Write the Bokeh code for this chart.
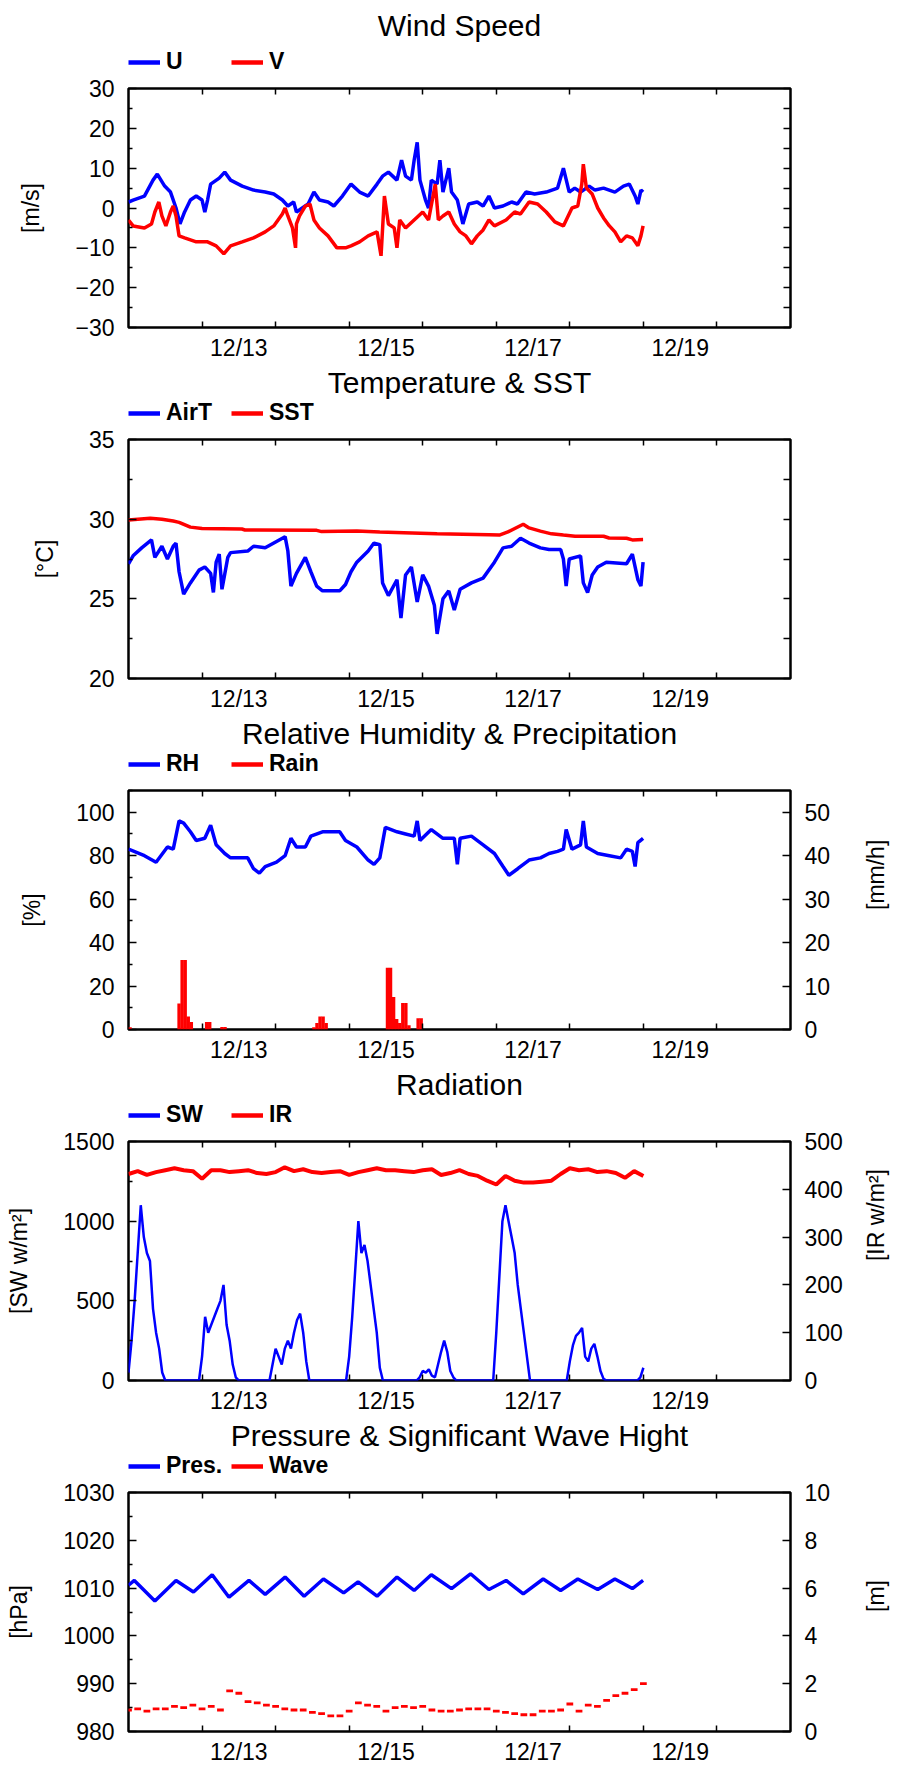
import math
import pandas as pd
from bokeh.plotting import figure
from bokeh.models import (Range1d, LinearAxis, DatetimeAxis, FixedTicker, Legend, LegendItem,
                          DatetimeTickFormatter, Spacer)
from bokeh.layouts import column
from bokeh.embed import file_html
from bokeh.resources import INLINE

# ---------------- data (hours after 12/12 00:00) ----------------
START = pd.Timestamp("2015-12-12 00:00")
DAYS_SHOWN = 9
LABEL_DAYS = [1.5, 3.5, 5.5, 7.5]
TICK_DAYS = [1, 2, 3, 4, 5, 6, 7, 8]

u_hour = [0, 1.5, 5.2, 8, 9.4, 11.8, 13.7, 15.5, 16.8, 18.3, 20.2, 22.1, 24, 24.9, 25.8, 26.8, 29.6, 31.4,
          33.3, 37.1, 40.8, 44.6, 47.4, 50.2, 52, 53.9, 54.8, 56.7, 58.6, 60.5, 62.3, 65.1, 67, 69.8, 72.6,
          75.4, 78.2, 81.1, 82.9, 84.8, 87.6, 89.1, 90.4, 92.3, 93.2, 94.2, 95.1, 96.9, 97.9, 98.8, 100.7,
          101.6, 102.6, 104.5, 105.4, 107.3, 109.1, 111, 113.8, 115.7, 117.6, 119.4, 122.2, 125, 126.9,
          129.7, 132.5, 136.3, 140, 141.9, 143.8, 145.6, 147.5, 150.3, 152.2, 155, 158.7, 161.5, 163.4,
          165.3, 166.2, 167.2, 167.9]
u_ms = [1.5, 2, 3, 7, 8.5, 5.5, 4, 0, -4, -1, 2, 3, 2, -1, 2, 6, 7.5, 9, 7, 5.5, 4.5, 4, 3.5, 2, 0.5,
        1.5, -1, 0, 1, 4, 2, 1.5, 0.5, 3, 6, 4, 3, 6, 8, 9, 7, 12, 8, 7, 12, 16.5, 7, 2, 0, 7, 6, 12, 4,
        10, 4, 2, -4, 1, 1.5, 0.5, 3, 0, 0.5, 1.5, 1, 4, 3.5, 4, 5, 10, 4, 5, 4, 5.5, 4.5, 5, 4, 5.5,
        6, 3, 1, 4.5, 4]

v_hour = [0, 1.5, 5.2, 7.5, 8.6, 9.9, 10.9, 12.2, 13.7, 14.6, 15.5, 16.5, 18.3, 22.1, 25.8, 28.6, 31.1,
          33.3, 37.1, 40.8, 44.6, 47.4, 50.2, 51.1, 52, 53.5, 54.5, 54.8, 55.8, 57.7, 59.2, 60.5, 62.3,
          65.1, 68, 70.8, 72.6, 75.4, 78.2, 81.1, 82.4, 83.5, 84.8, 86.7, 87.6, 88.5, 90.4, 93.2, 96,
          97.9, 100.1, 101.1, 102.6, 104.5, 106.3, 108.2, 110.1, 111.9, 113.8, 115.7, 117.6, 119.4,
          123.2, 126, 127.9, 130.7, 133.5, 136.3, 139.1, 141.9, 144.7, 146.6, 147.9, 148.4, 149.4,
          151.3, 153.1, 155, 156.9, 158.7, 160.6, 162.5, 164.4, 166.2, 167.2, 167.9]
v_ms = [-3, -4.5, -5, -4, -1, 1.5, -2, -4.5, -1, 0.5, -2, -7, -7.5, -8.5, -8.5, -9.5, -11.5, -9.5, -8.5,
        -7.5, -6, -4.5, -1.5, 0, -2, -5, -10, -4, -2, 0.5, 1, -3, -5, -7, -10, -10, -9.5, -8.5, -7, -6,
        -12, 3, -4, -5, -10, -3, -5, -3, -1, -3, 6, -3, -2, -1, -4, -6, -7, -9, -7, -5.5, -3, -4.5, -3,
        -1, -1.5, 1.5, 1, -1, -3.5, -4.5, 0, 0.5, 6, 11, 5, 3.5, 0, -2.5, -4.5, -6, -8.5, -7, -7.5,
        -9.5, -7, -4.5]

airt_hour = [0, 1.5, 4.3, 7.5, 8.6, 10.9, 12.7, 14.6, 15.5, 16.5, 18, 20.2, 23, 24.9, 26.8, 27.7, 28.6,
             29.6, 30.5, 32.4, 33.3, 38.9, 40.8, 44.6, 48.3, 51.1, 52, 53, 54.8, 57.7, 59.5, 61.4, 63.3,
             68.9, 70.8, 72.6, 74.5, 78.2, 80.1, 82, 82.9, 84.8, 87.6, 88.9, 90.4, 92.3, 94.2, 96, 97.9,
             99.8, 100.7, 102.6, 104.5, 106.3, 108.2, 111.9, 115.7, 119.4, 122.2, 125, 127.9, 130.7,
             134.4, 137.2, 141, 141.9, 142.8, 143.8, 147.5, 148.4, 149.8, 151.3, 153.1, 155.9, 162.5,
             164.4, 165.3, 166.2, 167.2, 167.9]
airt_c = [27.2, 27.7, 28.2, 28.7, 27.6, 28.3, 27.5, 28.3, 28.5, 26.7, 25.3, 26.0, 26.8, 27.0, 26.6, 25.4,
          27.3, 27.8, 25.6, 27.6, 27.9, 28.0, 28.3, 28.2, 28.6, 28.9, 28.0, 25.8, 26.6, 27.6, 26.7, 25.8,
          25.5, 25.5, 25.9, 26.7, 27.3, 28.0, 28.5, 28.4, 26.0, 25.2, 26.2, 23.8, 26.5, 27.0, 24.8, 26.5,
          25.8, 24.6, 22.8, 25.0, 25.5, 24.3, 25.6, 26.0, 26.3, 27.3, 28.2, 28.3, 28.8, 28.5, 28.2, 28.1,
          28.1, 27.5, 25.8, 27.5, 27.7, 26.0, 25.4, 26.5, 27.0, 27.3, 27.2, 27.8, 27.0, 26.2, 25.8, 27.3]

sst_hour = [0, 7.1, 10.9, 14.6, 16.5, 20.2, 24, 37, 38, 61.4, 63, 74.5, 82, 89.8, 100.7, 117.6, 121,
            123.8, 128.8, 130.7, 134.4, 138, 141.9, 145.7, 155, 156.8, 162.5, 164.4, 167.9]
sst_c = [29.95, 30.05, 30.0, 29.88, 29.8, 29.5, 29.42, 29.38, 29.32, 29.3, 29.22, 29.25, 29.2, 29.15,
         29.08, 29.02, 29.0, 29.2, 29.68, 29.45, 29.25, 29.08, 29.0, 28.93, 28.93, 28.82, 28.8, 28.7, 28.72]

rh_hour = [0, 5.2, 9, 12.7, 14.6, 16.5, 18, 20.2, 22.1, 24.9, 26.8, 28.6, 31.4, 33.3, 38.9, 40.8, 42.7,
           44.6, 48.3, 51.1, 53, 54.8, 57.7, 59.5, 63.3, 68.9, 70.8, 74.5, 78.2, 80.1, 82, 83.8, 87.6,
           90.4, 93.2, 94.2, 95.1, 98.8, 102.6, 106.3, 107.3, 108.2, 111.9, 115.7, 119.4, 122.2, 124.1,
           127, 130.7, 134.4, 137.2, 140, 141.9, 142.8, 144.7, 147.5, 148.4, 149.4, 153.1, 156.9, 160.6,
           162.5, 164.4, 165.3, 166.2, 167.9]
rh_pct = [83, 80, 77, 84, 83, 96, 95, 91, 87, 88, 94, 85, 81, 79, 79, 74, 72, 75, 77, 80, 88, 84, 84, 89,
          91, 91, 87, 84, 78, 76, 79, 93, 91, 90, 89, 96, 87, 92, 88, 88, 76, 88, 89, 85, 81, 75, 71, 74,
          78, 79, 81, 82, 83, 92, 83, 85, 96, 84, 81, 80, 79, 83, 82, 75, 86, 88]

rain_hour = [0, 16, 17, 18, 19, 20, 25, 26, 30, 31, 60, 61, 62, 63, 64, 84, 85, 86, 87, 88, 89, 90, 91,
             94, 95]
rain_mmh = [0.5, 6, 16, 16, 3, 1.7, 1.7, 1.7, 0.6, 0.6, 0.5, 1.5, 3, 3, 1.5, 14.2, 14.2, 7.5, 2.4, 1.5,
            6.1, 6.1, 1.0, 2.6, 2.6]

sw_hour = list(range(0, 169))
sw_wm2 = [50, 250, 500, 800, 1100, 900, 800, 750, 450, 300, 200, 50, 0, 0, 0, 0, 0, 0, 0, 0, 0, 0, 0, 0,
          150, 400, 300, 350, 400, 450, 500, 600, 350, 250, 100, 20, 0, 0, 0, 0, 0, 0, 0, 0, 0, 0, 0, 100,
          200, 150, 100, 200, 250, 200, 300, 380, 420, 300, 120, 0, 0, 0, 0, 0, 0, 0, 0, 0, 0, 0, 0, 0,
          150, 400, 700, 1000, 800, 850, 750, 600, 450, 300, 80, 0, 0, 0, 0, 0, 0, 0, 0, 0, 0, 0, 0, 20,
          60, 50, 70, 30, 20, 100, 180, 250, 180, 60, 20, 0, 0, 0, 0, 0, 0, 0, 0, 0, 0, 0, 0, 0,
          300, 650, 1000, 1100, 1000, 900, 800, 600, 450, 300, 150, 0, 0, 0, 0, 0, 0, 0, 0, 0, 0, 0, 0, 0,
          120, 220, 280, 300, 330, 150, 120, 200, 230, 150, 60, 10, 0, 0, 0, 0, 0, 0, 0, 0, 0, 0, 0, 20,
          80]

ir_hour = list(range(0, 169, 3))
ir_wm2 = [432, 438, 430, 436, 440, 444, 440, 438, 422, 440, 440, 436, 438, 440, 434, 432, 436, 446, 438,
          442, 436, 434, 436, 438, 430, 436, 440, 444, 440, 440, 438, 436, 440, 442, 430, 434, 440, 432,
          428, 418, 410, 428, 418, 414, 414, 416, 418, 432, 444, 440, 442, 436, 438, 434, 424, 438, 428]

pres_hour = [0, 1.9, 8.6, 15.5, 21.2, 27.3, 32.8, 39.3, 44.6, 51.1, 57.3, 63.6, 70.2, 74.9, 81.1, 87.6,
             93.2, 98.8, 105.4, 111.6, 117.6, 123.2, 128.8, 135.3, 141.0, 146.6, 153.1, 158.7, 164.4, 167.9]
pres_hpa = [1010.6, 1011.6, 1007.3, 1011.6, 1009.2, 1012.8, 1008.1, 1011.6, 1008.7, 1012.3, 1008.3,
            1011.9, 1009.0, 1011.3, 1008.3, 1012.3, 1009.5, 1012.8, 1009.9, 1013.0, 1009.7, 1011.6,
            1008.8, 1011.9, 1009.5, 1011.9, 1009.7, 1011.9, 1009.9, 1011.6]

wave_hour = list(range(0, 169, 3))
wave_m = [0.9, 0.95, 0.85, 0.95, 0.95, 1.05, 1.0, 1.1, 0.95, 1.05, 0.9, 1.7, 1.6, 1.25, 1.2, 1.1, 1.05,
          0.95, 0.9, 0.9, 0.8, 0.75, 0.65, 0.65, 0.85, 1.2, 1.1, 1.05, 0.85, 1.0, 1.05, 1.0, 1.05, 0.9,
          0.85, 0.85, 0.9, 0.95, 0.95, 0.95, 0.85, 0.8, 0.75, 0.7, 0.7, 0.85, 0.85, 0.9, 1.15, 0.85, 1.1,
          1.05, 1.3, 1.5, 1.6, 1.75, 2.0]

# ---------------- styling ----------------
FONT = "Liberation Sans"
BLUE = "#0000ff"
RED = "#ff0000"
W = 905
BORDER_L, BORDER_R = 128, 111
TOP_GAP = 6
HEADER_FIRST, HEADER_H = 69, 63
MAIN_TOP, FRAME_H, MAIN_BOTTOM = 13, 240, 35
TICK_FS = "23px"
LW = 3.5


def t(hours, shift=0.0):
    return START + pd.to_timedelta([h + shift for h in hours], unit="h")


def ms(day):
    return (START + pd.Timedelta(days=day)).value / 1e6


XR = Range1d(START, START + pd.Timedelta(days=DAYS_SHOWN))
DATEFMT = DatetimeTickFormatter(microseconds="%m/%d", milliseconds="%m/%d", seconds="%m/%d",
                                minsec="%m/%d", minutes="%m/%d", hourmin="%m/%d", hours="%m/%d",
                                days="%m/%d", months="%m/%d", years="%m/%d")


def style_axis(ax, tick_in, minor_in):
    ax.axis_line_color = None
    ax.major_tick_in = tick_in
    ax.major_tick_out = 0
    ax.minor_tick_in = minor_in
    ax.minor_tick_out = 0
    ax.major_tick_line_width = 1.5
    ax.minor_tick_line_width = 1.5
    ax.major_tick_line_color = "black"
    ax.minor_tick_line_color = "black"
    ax.major_label_text_font = FONT
    ax.major_label_text_font_size = TICK_FS
    ax.major_label_text_color = "black"
    ax.axis_label_text_font = FONT
    ax.axis_label_text_font_size = TICK_FS
    ax.axis_label_text_font_style = "normal"
    ax.axis_label_text_color = "black"


def make_header(title, entries, height):
    """Title plus legend strip drawn above each panel (legend glyphs use the series' own data,
    which lies outside this strip's ranges, so only the legend is visible)."""
    h = figure(width=W, height=height, x_range=Range1d(0, 1), y_range=Range1d(0, 1),
               x_axis_location=None, y_axis_location=None, output_backend="svg", toolbar_location=None,
               min_border_left=BORDER_L, min_border_right=BORDER_R, min_border_top=0, min_border_bottom=0,
               outline_line_color=None, background_fill_color="white", border_fill_color="white")
    h.grid.visible = False
    h.title.text = title
    h.title.align = "center"
    h.title.text_font = FONT
    h.title.text_font_size = "30px"
    h.title.text_font_style = "normal"
    h.title.text_color = "black"
    h.title.standoff = 0
    items = []
    for label, color, xs, ys in entries:
        r = h.line(x=xs, y=ys, line_color=color, line_width=4.5)
        items.append(LegendItem(label=label, renderers=[r]))
    lg = Legend(items=items, orientation="horizontal", location=(0, 0), margin=0, padding=0, spacing=0,
                glyph_width=32, glyph_height=24, label_height=20, label_standoff=6, label_width=65,
                label_text_font=FONT, label_text_font_size=TICK_FS, label_text_font_style="bold",
                label_text_color="black", border_line_color=None, background_fill_alpha=0)
    h.add_layout(lg, "center")
    return h


def make_panel(yr, yt, ymt, ylabel, right=None, right_standoff=30):
    p = figure(width=W, height=MAIN_TOP + FRAME_H + MAIN_BOTTOM, x_range=XR, y_range=Range1d(*yr),
               x_axis_type="datetime", x_axis_location=None, y_axis_location=None,
               output_backend="svg", toolbar_location=None,
               min_border_left=BORDER_L, min_border_right=BORDER_R, min_border_top=MAIN_TOP,
               min_border_bottom=MAIN_BOTTOM,
               background_fill_color="white", border_fill_color="white")
    p.grid.visible = False
    p.outline_line_color = "black"
    p.outline_line_width = 2.5

    bot = DatetimeAxis(ticker=FixedTicker(ticks=[ms(d) for d in LABEL_DAYS],
                                          minor_ticks=[ms(d) for d in TICK_DAYS]),
                       formatter=DATEFMT)
    style_axis(bot, 0, 6)
    bot.major_tick_line_color = None
    bot.major_label_standoff = 7
    p.add_layout(bot, "below")
    topax = DatetimeAxis(ticker=FixedTicker(ticks=[], minor_ticks=[ms(d) for d in TICK_DAYS]))
    style_axis(topax, 0, 6)
    topax.major_label_standoff = 0
    p.add_layout(topax, "above")

    left = LinearAxis(ticker=FixedTicker(ticks=yt, minor_ticks=ymt), axis_label=ylabel)
    style_axis(left, 8, 4)
    left.major_label_standoff = 14
    left.axis_label_standoff = 28
    p.add_layout(left, "left")
    if right is None:
        r = LinearAxis(ticker=FixedTicker(ticks=[], minor_ticks=sorted(yt + ymt)))
        style_axis(r, 0, 7)
        r.major_label_standoff = 0
        p.add_layout(r, "right")
    else:
        rlo, rhi, rticks, rlabel = right
        p.extra_y_ranges = {"r": Range1d(rlo, rhi)}
        r = LinearAxis(y_range_name="r", ticker=FixedTicker(ticks=rticks), axis_label=rlabel)
        style_axis(r, 8, 4)
        r.major_label_standoff = 14
        r.axis_label_standoff = right_standoff
        r.axis_label_orientation = math.pi / 2
        p.add_layout(r, "right")
    return p


# ---- panel 1: wind
h1 = make_header("Wind Speed", [("U", BLUE, t(u_hour), u_ms), ("V", RED, t(v_hour), v_ms)], HEADER_FIRST)
p1 = make_panel((-30, 30), list(range(-30, 31, 10)), list(range(-25, 26, 10)), "[m/s]")
p1.line(t(u_hour), u_ms, line_color=BLUE, line_width=LW)
p1.line(t(v_hour), v_ms, line_color=RED, line_width=LW)

# ---- panel 2: temperature
h2 = make_header("Temperature & SST", [("AirT", BLUE, t(airt_hour), airt_c),
                                      ("SST", RED, t(sst_hour), sst_c)], HEADER_H)
p2 = make_panel((20, 35), [20, 25, 30, 35], [22.5, 27.5, 32.5], "[°C]")
p2.line(t(airt_hour), airt_c, line_color=BLUE, line_width=LW)
p2.line(t(sst_hour), sst_c, line_color=RED, line_width=LW)

# ---- panel 3: humidity & rain
h3 = make_header("Relative Humidity & Precipitation", [("RH", BLUE, t(rh_hour), rh_pct),
                                                      ("Rain", RED, t(rain_hour), rain_mmh)], HEADER_H)
p3 = make_panel((0, 110), list(range(0, 101, 20)), list(range(10, 111, 20)), "[%]",
                right=(0, 55, list(range(0, 51, 10)), "[mm/h]"), right_standoff=43)
p3.line(t(rh_hour), rh_pct, line_color=BLUE, line_width=LW)
p3.segment(x0=t(rain_hour, 0.5), y0=[0] * len(rain_mmh), x1=t(rain_hour, 0.5), y1=rain_mmh,
           y_range_name="r", line_color=RED, line_width=3.4, line_cap="butt")

# ---- panel 4: radiation
h4 = make_header("Radiation", [("SW", BLUE, t(sw_hour), sw_wm2), ("IR", RED, t(ir_hour), ir_wm2)], HEADER_H)
p4 = make_panel((0, 1500), [0, 500, 1000, 1500], [250, 750, 1250], "[SW w/m²]",
                right=(0, 500, list(range(0, 501, 100)), "[IR w/m²]"), right_standoff=30)
p4.line(t(sw_hour), sw_wm2, line_color=BLUE, line_width=2.5)
p4.line(t(ir_hour), ir_wm2, line_color=RED, line_width=4, y_range_name="r")

# ---- panel 5: pressure & wave
h5 = make_header("Pressure & Significant Wave Hight", [("Pres.", BLUE, t(pres_hour), pres_hpa),
                                                      ("Wave", RED, t(wave_hour), wave_m)], HEADER_H)
p5 = make_panel((980, 1030), list(range(980, 1031, 10)), list(range(985, 1030, 10)), "[hPa]",
                right=(0, 10, list(range(0, 11, 2)), "[m]"), right_standoff=43)
p5.line(t(pres_hour), pres_hpa, line_color=BLUE, line_width=LW)
p5.segment(x0=t(wave_hour, -1.1), y0=wave_m, x1=t(wave_hour, 1.1), y1=wave_m,
           y_range_name="r", line_color=RED, line_width=2.8)

layout = column(Spacer(width=W, height=TOP_GAP), h1, p1, h2, p2, h3, p3, h4, p4, h5, p5, spacing=0)
open("out.html", "w").write(file_html(layout, INLINE))
